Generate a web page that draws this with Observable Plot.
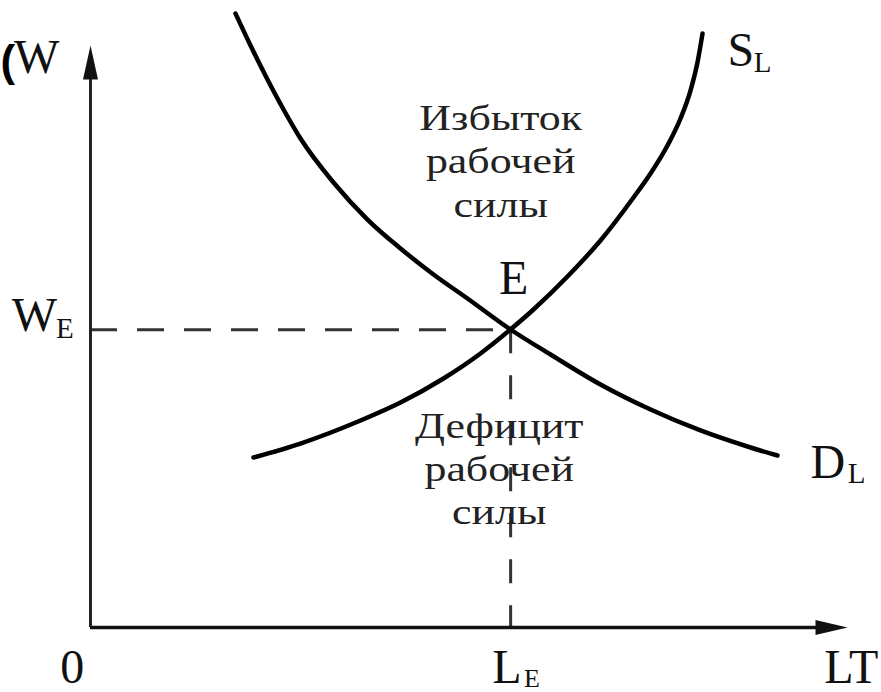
<!DOCTYPE html>
<html>
<head>
<meta charset="utf-8">
<script src="https://cdn.jsdelivr.net/npm/d3@7"></script>
<script src="https://cdn.jsdelivr.net/npm/@observablehq/plot@0.6"></script>
<style>
  html, body { margin: 0; padding: 0; background: #fff; }
</style>
</head>
<body>
<div id="chart"></div>
<script>
// Demand for labour D_L (quantity of labour LT, wage W)
const demandL = [19.15, 21.14, 23.38, 25.50, 27.74, 32.10, 36.59, 40.95, 45.31, 49.80, 55.48, 60.77, 67.37, 73.98, 80.58, 87.19, 90.75];
const demandW = [104.96, 99.49, 93.68, 88.55, 83.59, 76.07, 69.74, 64.79, 60.34, 56.24, 50.94, 46.67, 41.54, 37.26, 33.68, 30.77, 29.40];
// Supply of labour S_L
const supplyL = [21.53, 27.74, 35.67, 40.95, 46.63, 51.52, 55.48, 58.52, 63.01, 67.37, 71.73, 73.98, 76.22, 77.94, 79.26, 80.18, 80.85];
const supplyW = [29.06, 31.45, 35.38, 38.46, 42.56, 46.84, 50.94, 54.36, 60.00, 66.15, 73.50, 77.61, 82.39, 87.01, 91.79, 96.58, 101.54];
// Equilibrium E
const equilibriumL = [55.5];
const equilibriumW = [50.9];
// Texts
const surplusText = ["Избыток\nрабочей\nсилы"];
const deficitText = ["Дефицит\nрабочей\nсилы"];
const pointLabel = ["E"];
const wageAxisLabel = ["W"];
const labourAxisLabel = ["LT"];
const originLabel = ["0"];
const wageEqLabel = ["W", "E"];
const labourEqLabel = ["L", "E"];
const supplyLabel = ["S", "L"];
const demandLabel = ["D", "L"];
const bracketFragment = ["("];

const demand = demandL.map((L, i) => ({L, W: demandW[i]}));
const supply = supplyL.map((L, i) => ({L, W: supplyW[i]}));

const serif = "'Liberation Serif', 'Times New Roman', serif";
const big = 48, sub = 29;

const headShape = {
  draw(ctx, l) {
    ctx.moveTo(0, -l);
    ctx.lineTo(-7.5, 0);
    ctx.lineTo(7.5, 0);
    ctx.closePath();
  }
};

const chart = Plot.plot({
  width: 881,
  height: 692,
  marginLeft: 90,
  marginRight: 34,
  marginTop: 42,
  marginBottom: 65,
  x: {domain: [0, 100], axis: null},
  y: {domain: [0, 100], axis: null},
  style: {background: "#fff", overflow: "visible", fontFamily: serif, color: "#111"},
  marks: [
    // dashed guides
    Plot.ruleY(equilibriumW, {x1: 0, x2: equilibriumL[0], stroke: "#333", strokeWidth: 3, strokeDasharray: "27,20"}),
    Plot.ruleX(equilibriumL, {y1: equilibriumW[0], y2: 0, stroke: "#333", strokeWidth: 3, strokeDasharray: "24,22"}),
    // axes
    Plot.ruleY([0], {x1: 0, x2: 96, stroke: "#111", strokeWidth: 3.5}),
    Plot.ruleX([0], {y1: 0, y2: 95, stroke: "#222", strokeWidth: 3}),
    Plot.vector([0], {x: 0, y: 99.5, length: 34, anchor: "end", shape: headShape, fill: "#111", stroke: "none"}),
    Plot.vector([0], {x: 100, y: 0, length: 32, rotate: 90, anchor: "end", shape: headShape, fill: "#111", stroke: "none"}),
    // curves
    Plot.line(demand, {x: "L", y: "W", curve: "monotone-x", stroke: "#000", strokeWidth: 4.5}),
    Plot.line(supply, {x: "L", y: "W", curve: "monotone-x", stroke: "#000", strokeWidth: 4.5}),
    // area texts
    Plot.text(surplusText, {x: 54.2, y: 80.0, text: d => d, fontSize: 36, lineHeight: 1.2, fill: "#222"}),
    Plot.text(deficitText, {x: 54.0, y: 27.4, text: d => d, fontSize: 36, lineHeight: 1.2, fill: "#222"}),
    Plot.text(pointLabel, {x: 55.9, y: 59.6, text: d => d, fontSize: big, fill: "#111"}),
    // axis labels
    Plot.text(wageAxisLabel, {x: -7.1, y: 97.4, text: d => d, fontSize: big, fill: "#111"}),
    Plot.text(labourAxisLabel, {x: 100.5, y: -6.9, text: d => d, fontSize: big, fill: "#111"}),
    Plot.text(originLabel, {x: -2.4, y: -6.9, text: d => d, fontSize: big, fill: "#111"}),
    Plot.text([wageEqLabel[0]], {x: -7.4, y: 53.3, text: d => d, fontSize: big, fill: "#111"}),
    Plot.text([wageEqLabel[1]], {x: -3.4, y: 51.0, text: d => d, fontSize: sub, fill: "#111"}),
    Plot.text([labourEqLabel[0]], {x: 55.0, y: -6.9, text: d => d, fontSize: big, fill: "#111"}),
    Plot.text([labourEqLabel[1]], {x: 58.3, y: -8.8, text: d => d, fontSize: sub - 3, fill: "#111"}),
    Plot.text([supplyLabel[0]], {x: 85.9, y: 98.6, text: d => d, fontSize: big, fill: "#111"}),
    Plot.text([supplyLabel[1]], {x: 88.8, y: 96.5, text: d => d, fontSize: sub, fill: "#111"}),
    Plot.text([demandLabel[0]], {x: 97.4, y: 28.2, text: d => d, fontSize: big, fill: "#111"}),
    Plot.text([demandLabel[1]], {x: 101.2, y: 26.3, text: d => d, fontSize: sub, fill: "#111"}),
    // cropped heading fragment
    Plot.text(bracketFragment, {x: -11.9, y: 96.6, text: d => d, textAnchor: "start", fontSize: 44, fontWeight: "bold", fontFamily: "'Liberation Sans', Arial, sans-serif", fill: "#000"})
  ]
});

document.getElementById("chart").appendChild(chart);

// the reference's area captions use a wider serif face: stretch them horizontally about their centre
Array.from(chart.querySelectorAll("text"))
  .filter(t => t.textContent.includes("рабочей"))
  .forEach(t => {
    const bb = t.getBBox();
    const cx = bb.x + bb.width / 2;
    const tr = t.getAttribute("transform") || "";
    t.setAttribute("transform", `${tr} translate(${cx},0) scale(1.22,1) translate(${-cx},0)`);
  });
</script>
</body>
</html>
